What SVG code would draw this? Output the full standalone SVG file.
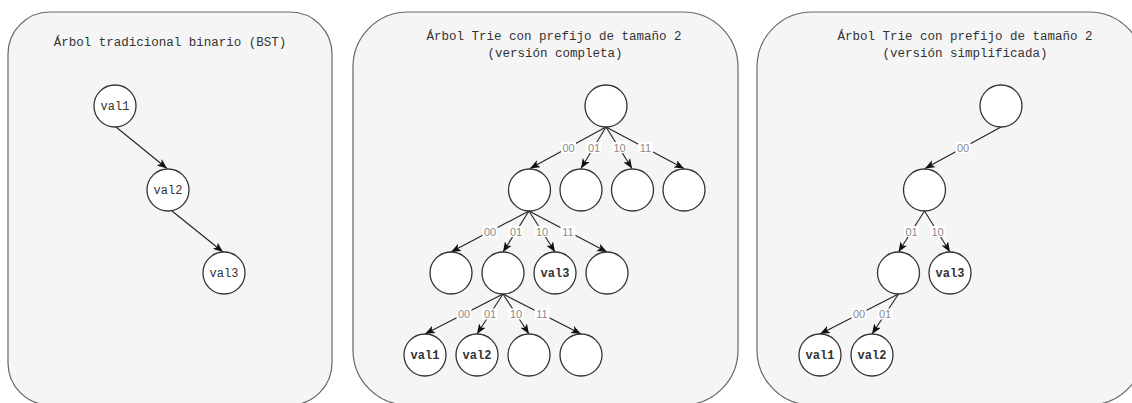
<svg xmlns="http://www.w3.org/2000/svg" width="1132" height="403" viewBox="0 0 1132 403">
  <style>
    .panel { fill: #f5f5f5; stroke: #666666; stroke-width: 1.2; }
    .title { font-family: "Liberation Mono", "DejaVu Sans Mono", monospace; font-size: 12.5px; fill: #333333; text-anchor: middle; }
    .node circle { fill: #ffffff; stroke: #333333; stroke-width: 1.3; }
    .node text { font-family: "Liberation Mono", "DejaVu Sans Mono", monospace; font-size: 12px; fill: #333333; text-anchor: middle; }
    .bold text { font-weight: bold; }
    .edge { stroke: #222222; stroke-width: 1.1; fill: none; marker-end: url(#arrow); }
    .lbl rect { fill: #ffffff; }
    .lbl text { font-family: "Liberation Sans", Arial, sans-serif; font-size: 11px; fill: #8a8a8a; text-anchor: middle; }
  </style>
  <defs>
    <marker id="arrow" viewBox="0 0 10 8" refX="10" refY="4" markerWidth="10" markerHeight="8" markerUnits="userSpaceOnUse" orient="auto">
      <path d="M0,0 L10,4 L0,8 L2.5,4 Z" fill="#111111"/>
    </marker>
  </defs>

  <!-- background panels -->
  <g id="panels">
    <rect class="panel" x="8" y="12" width="324" height="393" rx="42" ry="42"/>
    <rect class="panel" x="353" y="12" width="385" height="393" rx="55" ry="55"/>
    <rect class="panel" x="757" y="12" width="387" height="393" rx="55" ry="55"/>
  </g>

  <!-- panel titles -->
  <g id="titles">
    <text class="title" x="170" y="46">Árbol tradicional binario (BST)</text>
    <text class="title" x="554" y="39.5">Árbol Trie con prefijo de tamaño 2</text>
    <text class="title" x="555" y="56.5">(versión completa)</text>
    <text class="title" x="965" y="39.5">Árbol Trie con prefijo de tamaño 2</text>
    <text class="title" x="965" y="56.5">(versión simplificada)</text>
  </g>

  <!-- connectors -->
  <g id="connectors">
    <!-- BST -->
    <line class="edge" x1="116" y1="127" x2="167" y2="168.5"/>
    <line class="edge" x1="172" y1="211" x2="223" y2="252"/>

    <!-- full trie: root -> level 1 -->
    <line class="edge" x1="606" y1="127" x2="530" y2="168.5"/>
    <line class="edge" x1="606" y1="127" x2="581" y2="168.5"/>
    <line class="edge" x1="606" y1="127" x2="632" y2="168.5"/>
    <line class="edge" x1="606" y1="127" x2="684" y2="168.5"/>
    <!-- full trie: level 1 -> level 2 -->
    <line class="edge" x1="529" y1="211" x2="451" y2="252"/>
    <line class="edge" x1="529" y1="211" x2="503" y2="252"/>
    <line class="edge" x1="529" y1="211" x2="555" y2="252"/>
    <line class="edge" x1="529" y1="211" x2="607" y2="252"/>
    <!-- full trie: level 2 -> level 3 -->
    <line class="edge" x1="503" y1="294" x2="425" y2="334"/>
    <line class="edge" x1="503" y1="294" x2="477" y2="334"/>
    <line class="edge" x1="503" y1="294" x2="529" y2="334"/>
    <line class="edge" x1="503" y1="294" x2="581" y2="334"/>

    <!-- simplified trie -->
    <line class="edge" x1="1001" y1="127" x2="925" y2="168.5"/>
    <line class="edge" x1="924.5" y1="211" x2="898.5" y2="252"/>
    <line class="edge" x1="924.5" y1="211" x2="950" y2="252"/>
    <line class="edge" x1="898.5" y1="294" x2="820" y2="334"/>
    <line class="edge" x1="898.5" y1="294" x2="872" y2="334"/>

    <!-- edge labels -->
    <g class="lbl">
      <rect x="561" y="142" width="15" height="11"/><text x="568.5" y="151.5">00</text>
      <rect x="586.5" y="142" width="15" height="11"/><text x="594" y="151.5">01</text>
      <rect x="612" y="142" width="15" height="11"/><text x="619.5" y="151.5">10</text>
      <rect x="638" y="142" width="15" height="11"/><text x="645.5" y="151.5">11</text>

      <rect x="482.5" y="226" width="15" height="11"/><text x="490" y="235.5">00</text>
      <rect x="508.5" y="226" width="15" height="11"/><text x="516" y="235.5">01</text>
      <rect x="534.5" y="226" width="15" height="11"/><text x="542" y="235.5">10</text>
      <rect x="560.5" y="226" width="15" height="11"/><text x="568" y="235.5">11</text>

      <rect x="456.5" y="308.5" width="15" height="11"/><text x="464" y="318">00</text>
      <rect x="482.5" y="308.5" width="15" height="11"/><text x="490" y="318">01</text>
      <rect x="508.5" y="308.5" width="15" height="11"/><text x="516" y="318">10</text>
      <rect x="534.5" y="308.5" width="15" height="11"/><text x="542" y="318">11</text>

      <rect x="955.5" y="142" width="15" height="11"/><text x="963" y="151.5">00</text>
      <rect x="904" y="226" width="15" height="11"/><text x="911.5" y="235.5">01</text>
      <rect x="930" y="226" width="15" height="11"/><text x="937.5" y="235.5">10</text>
      <rect x="851.5" y="308.5" width="15" height="11"/><text x="859" y="318">00</text>
      <rect x="877.5" y="308.5" width="15" height="11"/><text x="885" y="318">01</text>
    </g>
  </g>

  <!-- BST nodes -->
  <g id="bst-val1" class="node"><circle cx="115" cy="106" r="21"/><text x="115" y="110">val1</text></g>
  <g id="bst-val2" class="node"><circle cx="168" cy="190" r="21"/><text x="168" y="194">val2</text></g>
  <g id="bst-val3" class="node"><circle cx="224" cy="273" r="21"/><text x="224" y="277">val3</text></g>

  <!-- full trie nodes -->
  <g id="full-root" class="node"><circle cx="606" cy="106" r="21"/></g>
  <g id="full-00" class="node"><circle cx="529.5" cy="190" r="21"/></g>
  <g id="full-01" class="node"><circle cx="581" cy="190" r="21"/></g>
  <g id="full-10" class="node"><circle cx="632.5" cy="190" r="21"/></g>
  <g id="full-11" class="node"><circle cx="684" cy="190" r="21"/></g>
  <g id="full-0000" class="node"><circle cx="451" cy="273" r="21"/></g>
  <g id="full-0001" class="node"><circle cx="503" cy="273" r="21"/></g>
  <g id="full-0010" class="node bold"><circle cx="555" cy="273" r="21"/><text x="555" y="277">val3</text></g>
  <g id="full-0011" class="node"><circle cx="607" cy="273" r="21"/></g>
  <g id="full-000100" class="node bold"><circle cx="425" cy="355" r="21"/><text x="425" y="359">val1</text></g>
  <g id="full-000101" class="node bold"><circle cx="477" cy="355" r="21"/><text x="477" y="359">val2</text></g>
  <g id="full-000110" class="node"><circle cx="529" cy="355" r="21"/></g>
  <g id="full-000111" class="node"><circle cx="581" cy="355" r="21"/></g>

  <!-- simplified trie nodes -->
  <g id="simple-root" class="node"><circle cx="1001" cy="106" r="21"/></g>
  <g id="simple-00" class="node"><circle cx="924.5" cy="190" r="21"/></g>
  <g id="simple-0001" class="node"><circle cx="898.5" cy="273" r="21"/></g>
  <g id="simple-0010" class="node bold"><circle cx="950" cy="273" r="21"/><text x="950" y="277">val3</text></g>
  <g id="simple-000100" class="node bold"><circle cx="820" cy="355" r="21"/><text x="820" y="359">val1</text></g>
  <g id="simple-000101" class="node bold"><circle cx="872" cy="355" r="21"/><text x="872" y="359">val2</text></g>
</svg>
